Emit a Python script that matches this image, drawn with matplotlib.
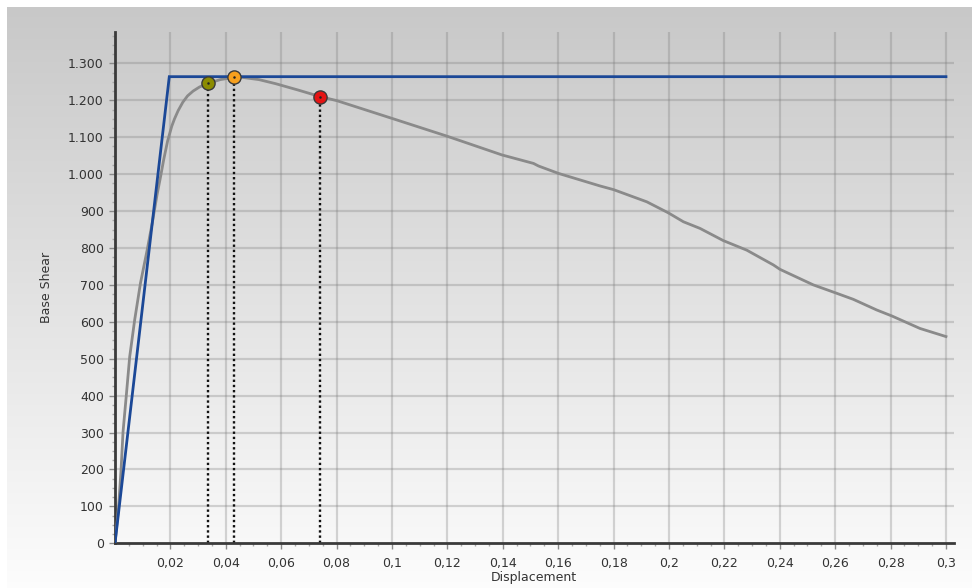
import numpy as np
import matplotlib
matplotlib.use("Agg")
import matplotlib.pyplot as plt

# Pushover capacity curve (displacement, base shear)
pushover_disp = [0.0, 0.0013, 0.0022, 0.0029, 0.0041, 0.0053, 0.0071, 0.0092,
                 0.0116, 0.0135, 0.0152, 0.0165, 0.0176, 0.0190, 0.0205, 0.0215,
                 0.0228, 0.0245, 0.0262, 0.0282, 0.0305, 0.0336, 0.0380, 0.0420,
                 0.0460, 0.0520, 0.0580, 0.0660, 0.0741, 0.0801, 0.1000, 0.1198,
                 0.1397, 0.1511, 0.1529, 0.1601, 0.1751, 0.1800, 0.1920, 0.1998,
                 0.2052, 0.2112, 0.2196, 0.2281, 0.2377, 0.2401, 0.2521, 0.2599,
                 0.2665, 0.2750, 0.2804, 0.2858, 0.2906, 0.3000]
pushover_shear = [0, 98, 201, 302, 402, 505, 605, 705,
                  794, 870, 945, 995, 1040, 1090, 1130, 1150,
                  1172, 1195, 1212, 1225, 1236, 1246, 1256, 1261,
                  1262, 1256, 1245, 1228, 1210, 1199, 1151, 1103,
                  1052, 1029, 1022, 1002, 968, 958, 925, 895,
                  871, 853, 820, 794, 754, 742, 700, 679,
                  661, 632, 616, 598, 582, 560]

# Idealised bilinear curve
bilinear_disp = [0.0, 0.0196, 0.3]
bilinear_shear = [0, 1264, 1264]

# Performance points
point_disp = [0.0336, 0.0428, 0.0741]
point_shear = [1246, 1262, 1210]
point_colors = ["#8c8c00", "#f7a01e", "#e51414"]

y_ticks = [0, 100, 200, 300, 400, 500, 600, 700, 800, 900, 1000, 1100, 1200, 1300]
y_tick_labels = ["0", "100", "200", "300", "400", "500", "600", "700", "800",
                 "900", "1.000", "1.100", "1.200", "1.300"]
x_ticks = [0.02, 0.04, 0.06, 0.08, 0.1, 0.12, 0.14, 0.16, 0.18, 0.2,
           0.22, 0.24, 0.26, 0.28, 0.3]
x_tick_labels = ["0,02", "0,04", "0,06", "0,08", "0,1", "0,12", "0,14", "0,16",
                 "0,18", "0,2", "0,22", "0,24", "0,26", "0,28", "0,3"]

W, H = 972, 588
fig = plt.figure(figsize=(W / 100, H / 100), dpi=100)
fig.patch.set_facecolor("white")

# Vertical gray-to-white background gradient
bg = fig.add_axes([7 / W, 0, 1 - 7 / W, 1 - 7 / H])
bg.set_axis_off()
grad = np.linspace(0.785, 0.99, 256).reshape(-1, 1)
bg.imshow(np.dstack([grad, grad, grad]), aspect="auto", extent=[0, 1, 1, 0],
          interpolation="bilinear")
bg.set_xlim(0, 1)
bg.set_ylim(1, 0)

left, right = 115 / W, 954 / W
bottom, top = 1 - 543.3 / H, 1 - 32 / H
ax = fig.add_axes([left, bottom, right - left, top - bottom])
ax.patch.set_alpha(0)

ax.set_xlim(0, 0.3029)
ax.set_ylim(0, 1385)

# Grid
grid_kw = dict(color="#7a7a7a", alpha=0.3, lw=1.6, zorder=1)
for yv in y_ticks[1:]:
    ax.axhline(yv, **grid_kw)
for xv in x_ticks:
    ax.axvline(xv, **grid_kw)

# Drop lines from the performance points
for xd, yd in zip(point_disp, point_shear):
    ax.plot([xd, xd], [0, yd], color="#111111", lw=1.7,
            linestyle=(0, (1, 1.2)), zorder=2)

ax.plot(pushover_disp, pushover_shear, color="#8a8a8a", lw=2.0, zorder=3,
        solid_joinstyle="round")
ax.plot(bilinear_disp, bilinear_shear, color="#1b4897", lw=2.0, zorder=4,
        solid_joinstyle="miter")

for xd, yd, c in zip(point_disp, point_shear, point_colors):
    ax.plot(xd, yd, "o", ms=9.5, mfc=c, mec="#3a3a3a", mew=1.0, zorder=5)
    ax.plot(xd, yd, "o", ms=1.8, mfc="#222222", mec="none", zorder=6)

# Axes styling
for s in ("top", "right"):
    ax.spines[s].set_visible(False)
for s in ("left", "bottom"):
    ax.spines[s].set_color("#3a3a3a")
    ax.spines[s].set_linewidth(2.0)

ax.set_xticks(x_ticks)
ax.set_xticklabels(x_tick_labels)
ax.set_yticks(y_ticks)
ax.set_yticklabels(y_tick_labels)
ax.set_xticks(np.arange(0.005, 0.303, 0.005), minor=True)
ax.set_yticks(np.arange(25, 1385, 25), minor=True)
ax.tick_params(axis="both", which="major", length=4, width=1.0,
               color="#8a8a8a", labelsize=9, labelcolor="#333333", direction="out")
ax.tick_params(axis="both", which="minor", length=2.5, width=1.0,
               color="#a8a8a8", direction="out")
ax.tick_params(axis="x", which="major", pad=6)
ax.tick_params(axis="y", which="major", pad=4)

ax.set_xlabel("Displacement", fontsize=9, color="#333333")
ax.set_ylabel("Base Shear", fontsize=9, color="#333333")
ax.xaxis.set_label_coords((534 - 115) / (954 - 115), -(571 - 543.3) / (543.3 - 32))
ax.yaxis.set_label_coords(-(115 - 53) / (954 - 115), 0.5)

fig.savefig("out.png", dpi=100)
